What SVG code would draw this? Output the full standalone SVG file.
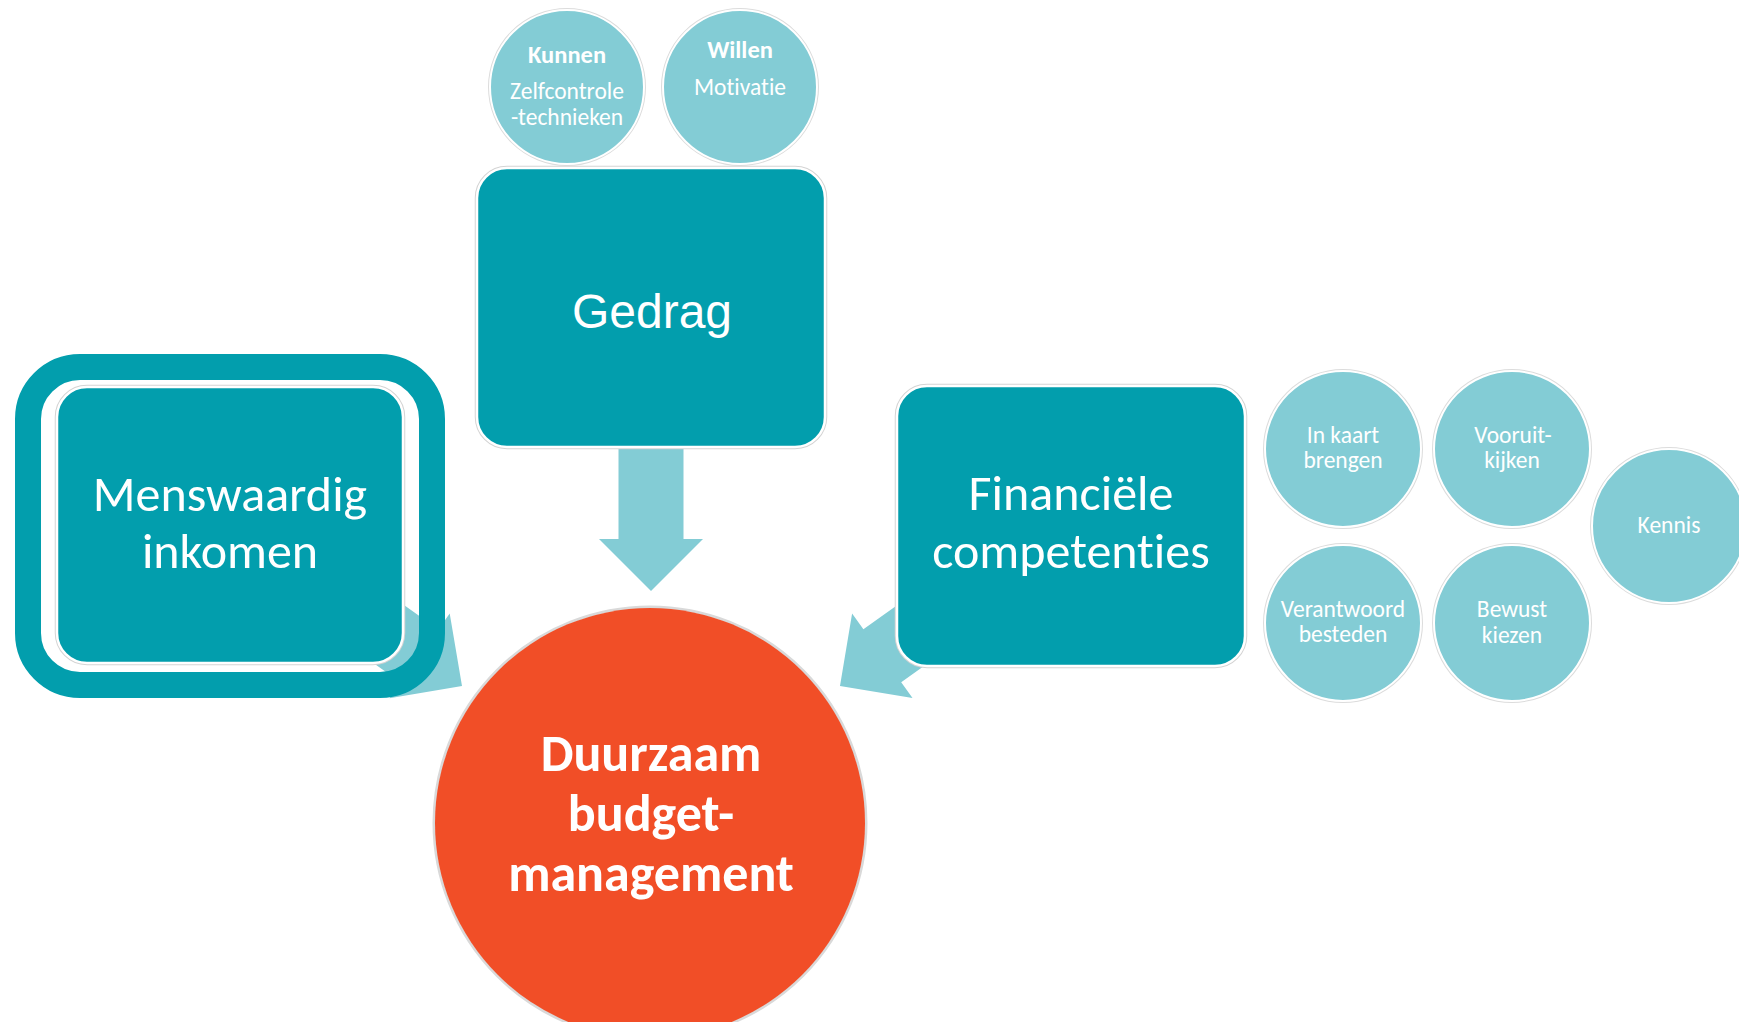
<svg xmlns="http://www.w3.org/2000/svg" width="1739" height="1022" viewBox="0 0 1739 1022">
<style>
.box{fill:#029EAD;stroke:#ffffff;stroke-width:2.5}
.rim{fill:none;stroke:#d4d4d4;stroke-width:4.5}
.small{fill:#83CCD5;stroke:#ffffff;stroke-width:2}
.smallrim{fill:none;stroke:#dcdcdc;stroke-width:4}
.arrow{fill:#83CCD5}
.t{font-family:Carlito,Lato,"Open Sans",sans-serif;fill:#ffffff;text-anchor:middle;font-variant-ligatures:none;font-feature-settings:"liga" 0,"dlig" 0}
.s{font-size:23.5px}
.sb{font-size:24.5px;font-weight:bold}
.big{font-size:50px}
.core{font-size:52px;font-weight:bold}
.arial{font-family:"Liberation Sans",Arial,sans-serif;fill:#ffffff;text-anchor:middle;font-size:48px}
</style>
<rect width="1739" height="1022" fill="#ffffff"/>
<g id="connectors">
<polygon class="arrow" points="618.5,440 683.5,440 683.5,539 703,539 651,591 599,539 618.5,539"/>
<polygon class="arrow" points="356.8,571.6 438.4,629.4 449.7,613.5 462,686 389.5,698.3 400.8,682.4 319.2,624.6"/>
<polygon class="arrow" points="944.8,571.2 863.4,629.3 852.1,613.5 840,686 912.5,698.1 901.2,682.3 982.6,624.2"/>
</g>
<g id="node-kunnen">
<circle class="smallrim" cx="567" cy="87" r="77"/>
<circle class="small" cx="567" cy="87" r="77"/>
<text class="t sb" x="567" y="63">Kunnen</text>
<text class="t s" x="567" y="99">Zelfcontrole</text>
<text class="t s" x="567" y="125">-technieken</text>
</g>
<g id="node-willen">
<circle class="smallrim" cx="740" cy="87" r="77"/>
<circle class="small" cx="740" cy="87" r="77"/>
<text class="t sb" x="740" y="58">Willen</text>
<text class="t s" x="740" y="95">Motivatie</text>
</g>
<g id="node-gedrag">
<rect class="rim" x="477" y="168" width="348" height="279" rx="30"/>
<rect class="box" x="477" y="168" width="348" height="279" rx="30"/>
<text class="arial" x="652" y="328">Gedrag</text>
</g>
<g id="node-menswaardig">
<rect x="28" y="367" width="404" height="318" rx="52" fill="none" stroke="#029EAD" stroke-width="26"/>
<rect class="rim" x="57" y="387" width="346" height="276" rx="30"/>
<rect class="box" x="57" y="387" width="346" height="276" rx="30"/>
<text class="t big" x="230" y="511">Menswaardig</text>
<text class="t big" x="230" y="568">inkomen</text>
</g>
<g id="node-financiele">
<rect class="rim" x="897" y="386" width="348" height="280" rx="30"/>
<rect class="box" x="897" y="386" width="348" height="280" rx="30"/>
<text class="t big" x="1071" y="510">Financiële</text>
<text class="t big" x="1071" y="568">competenties</text>
</g>
<g id="node-inkaart">
<circle class="smallrim" cx="1343" cy="449" r="78"/>
<circle class="small" cx="1343" cy="449" r="78"/>
<text class="t s" x="1343" y="443">In kaart</text>
<text class="t s" x="1343" y="468">brengen</text>
</g>
<g id="node-vooruit">
<circle class="smallrim" cx="1512" cy="449" r="78"/>
<circle class="small" cx="1512" cy="449" r="78"/>
<text class="t s" x="1513" y="443">Vooruit-</text>
<text class="t s" x="1512" y="468">kijken</text>
</g>
<g id="node-kennis">
<circle class="smallrim" cx="1669" cy="526" r="77"/>
<circle class="small" cx="1669" cy="526" r="77"/>
<text class="t s" x="1669" y="533">Kennis</text>
</g>
<g id="node-verantwoord">
<circle class="smallrim" cx="1343" cy="623" r="78"/>
<circle class="small" cx="1343" cy="623" r="78"/>
<text class="t s" x="1343" y="617">Verantwoord</text>
<text class="t s" x="1343" y="642">besteden</text>
</g>
<g id="node-bewust">
<circle class="smallrim" cx="1512" cy="623" r="78"/>
<circle class="small" cx="1512" cy="623" r="78"/>
<text class="t s" x="1512" y="617">Bewust</text>
<text class="t s" x="1512" y="643">kiezen</text>
</g>
<g id="node-duurzaam">
<circle cx="650" cy="823" r="216" fill="none" stroke="#d9d9d9" stroke-width="3"/>
<circle cx="650" cy="823" r="215" fill="#F14E27"/>
<text class="t core" x="651" y="771">Duurzaam</text>
<text class="t core" x="651" y="831">budget-</text>
<text class="t core" x="651" y="891">management</text>
</g>
</svg>
